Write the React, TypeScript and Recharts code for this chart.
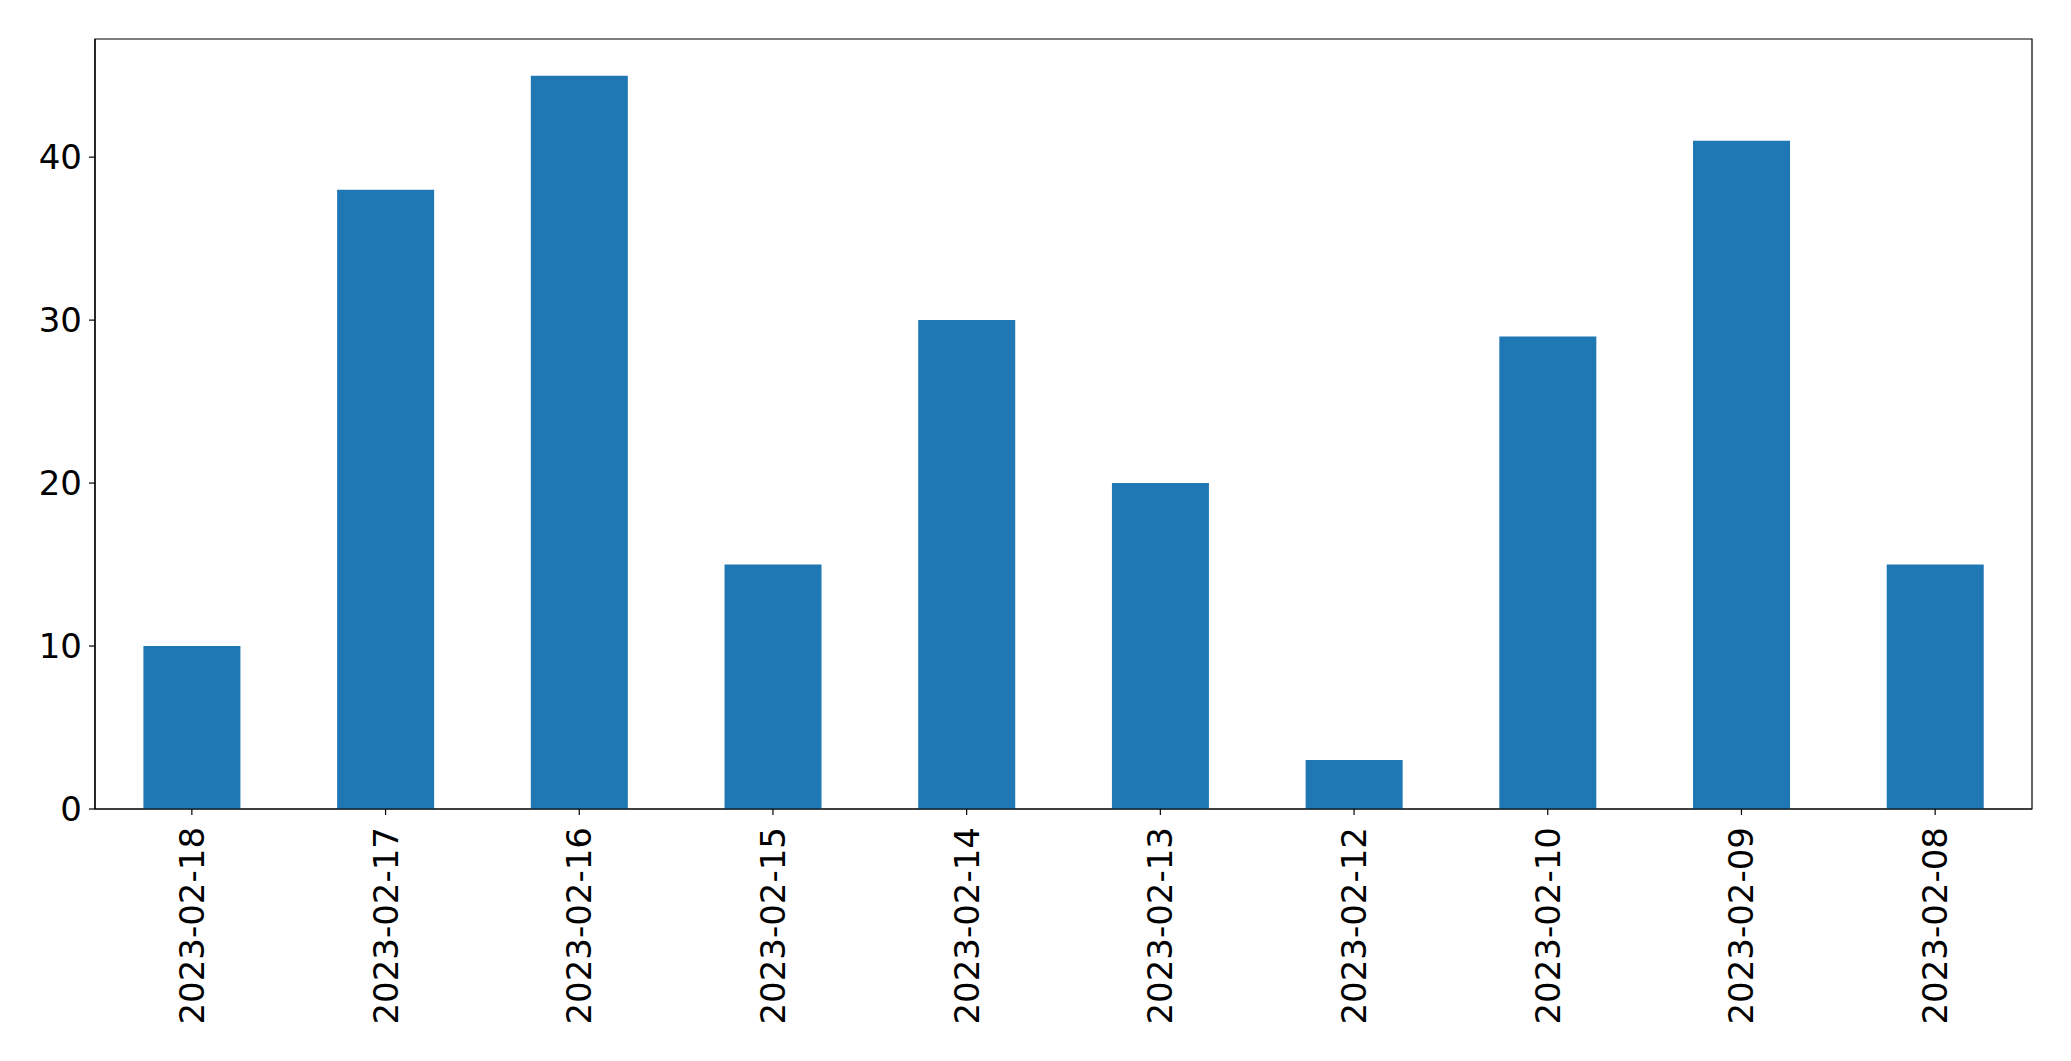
import { Bar, BarChart, ReferenceArea, XAxis, YAxis } from "recharts";

const dates = [
  "2023-02-18",
  "2023-02-17",
  "2023-02-16",
  "2023-02-15",
  "2023-02-14",
  "2023-02-13",
  "2023-02-12",
  "2023-02-10",
  "2023-02-09",
  "2023-02-08",
];
const counts = [10, 38, 45, 15, 30, 20, 3, 29, 41, 15];
const yTicks = [0, 10, 20, 30, 40];
const yMax = 47.25;

const data = dates.map((date, i) => ({ date, count: counts[i] }));

const font = "'DejaVu Sans', sans-serif";

const DateTick = (props: any) => {
  const { x, y, payload } = props;
  return (
    <text
      x={x}
      y={y}
      transform={`rotate(-90, ${x}, ${y})`}
      textAnchor="end"
      dominantBaseline="central"
      fontSize={34}
      fontFamily={font}
      fill="#000"
    >
      {payload.value}
    </text>
  );
};

const App = () => {
  return (
    <div style={{ position: "absolute", left: 0, top: 0, background: "#fff" }}>
      <BarChart
        width={2071}
        height={1061}
        data={data}
        margin={{ top: 39, right: 39, left: 0, bottom: 0 }}
        barCategoryGap="25%"
      >
        <XAxis
          dataKey="date"
          height={252}
          interval={0}
          stroke="#000"
          tickSize={6}
          tickMargin={12}
          tick={<DateTick />}
          axisLine={{ stroke: "#000", strokeWidth: 1.2 }}
          tickLine={{ stroke: "#000", strokeWidth: 1.2 }}
        />
        <YAxis
          width={95}
          domain={[0, yMax]}
          ticks={yTicks}
          stroke="#000"
          tickSize={6}
          tickMargin={7}
          axisLine={{ stroke: "#000", strokeWidth: 1.2 }}
          tickLine={{ stroke: "#000", strokeWidth: 1.2 }}
          tick={{ fontSize: 34, fontFamily: font, fill: "#000" }}
        />
        <Bar dataKey="count" fill="#1f77b4" isAnimationActive={false} />
        <ReferenceArea
          y1={0}
          y2={yMax}
          fill="none"
          fillOpacity={0}
          stroke="#000"
          strokeWidth={1.2}
          ifOverflow="visible"
        />
      </BarChart>
    </div>
  );
};

export default App;
